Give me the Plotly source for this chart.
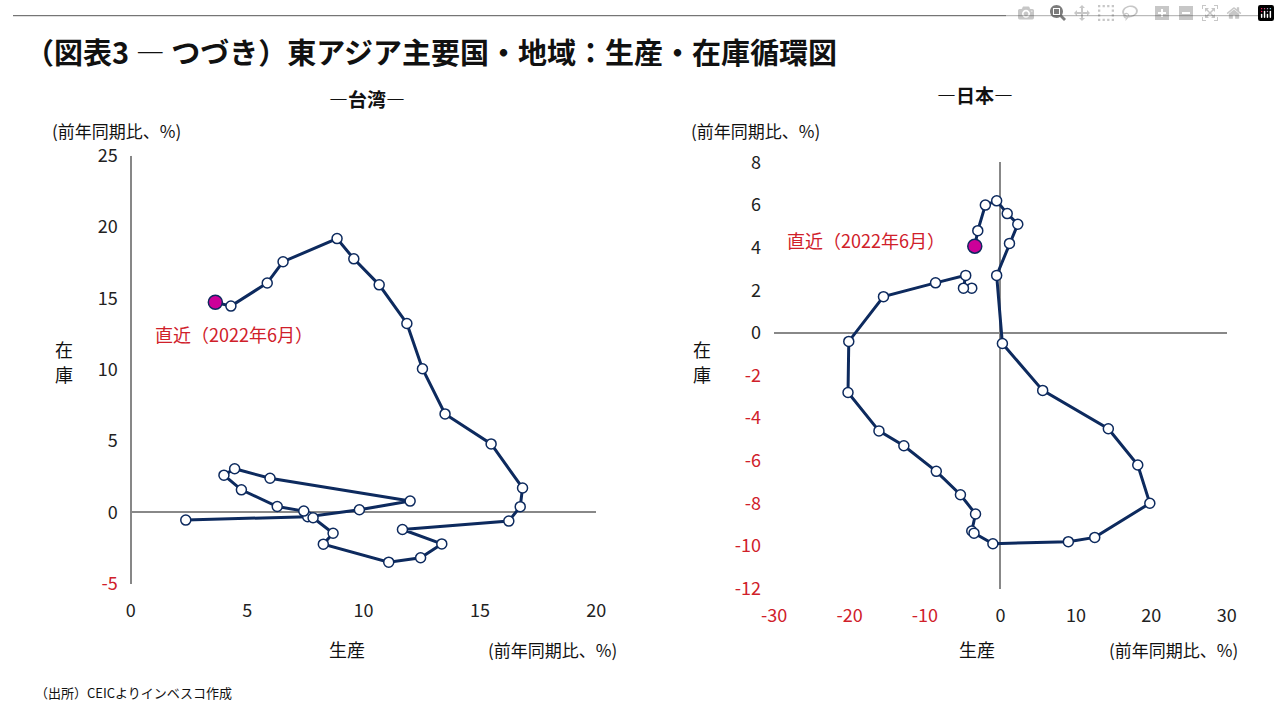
import plotly.graph_objects as go
from plotly.subplots import make_subplots

# 台湾: 生産 (x), 在庫 (y), chronological, last point = 直近
tw_prod = [2.36, 7.6, 9.82, 12.0, 5.98, 4.46, 4.0, 4.75, 6.29, 7.43, 7.83, 8.69, 8.27,
           11.08, 12.45, 13.36, 11.67, 16.24, 16.73, 16.83, 15.48, 13.5, 12.53, 11.86,
           10.67, 9.58, 8.86, 6.54, 5.86, 4.3, 3.63]
tw_inv = [-0.54, -0.3, 0.18, 0.79, 2.39, 3.06, 2.61, 1.58, 0.41, 0.09, -0.38, -1.46, -2.23,
          -3.49, -3.18, -2.21, -1.2, -0.61, 0.4, 1.71, 4.8, 6.9, 10.07, 13.24,
          15.95, 17.77, 19.19, 17.57, 16.08, 14.46, 14.73]

# 日本
jp_prod = [-3.8, -4.9, -4.6, -8.6, -15.5, -20.1, -20.2, -16.1, -12.8, -8.5, -5.3, -3.3,
           -3.8, -3.5, -1.0, 9.0, 12.5, 19.8, 18.2, 14.3, 5.6, 0.26, -0.5, 1.2, 2.3, 0.9,
           -0.5, -2.0, -3.0, -3.4]
jp_inv = [2.1, 2.1, 2.7, 2.35, 1.7, -0.4, -2.8, -4.6, -5.3, -6.5, -7.6, -8.5,
          -9.3, -9.4, -9.9, -9.8, -9.6, -8.0, -6.2, -4.5, -2.7, -0.5, 2.7, 4.2, 5.1, 5.6,
          6.2, 6.0, 4.8, 4.07]

tw_xticks = [0, 5, 10, 15, 20]
tw_yticks = [-5, 0, 5, 10, 15, 20, 25]
jp_xticks = [-30, -20, -10, 0, 10, 20, 30]
jp_yticks = [-12, -10, -8, -6, -4, -2, 0, 2, 4, 6, 8]

NAVY = "#0d2a5e"
RED = "#d0202a"
FONT = "Noto Sans CJK JP"


def tick_text(vals):
    return [f'<span style="color:{RED}">{v}</span>' if v < 0 else str(v) for v in vals]


fig = make_subplots(rows=1, cols=2)

for col, xs, ys in [(1, tw_prod, tw_inv), (2, jp_prod, jp_inv)]:
    fig.add_trace(go.Scatter(x=xs, y=ys, mode="lines+markers",
                             line=dict(color=NAVY, width=3),
                             marker=dict(size=10, color="white", line=dict(color=NAVY, width=1.5)),
                             showlegend=False), row=1, col=col)
    fig.add_trace(go.Scatter(x=[xs[-1]], y=[ys[-1]], mode="markers",
                             marker=dict(size=14, color="#cc0099", line=dict(color=NAVY, width=1.5)),
                             showlegend=False), row=1, col=col)

axis_common = dict(showgrid=False, showline=False, zeroline=True, zerolinecolor="#888888",
                   zerolinewidth=1.5, ticks="", tickfont=dict(size=18, color="#222", family=FONT))

fig.update_xaxes(domain=[120 / 1280, 594 / 1280], range=[0, 20], tickvals=tw_xticks,
                 ticktext=tick_text(tw_xticks), row=1, col=1, **axis_common)
fig.update_yaxes(domain=[1 - 590 / 720, 1 - 146 / 720], range=[-5, 25], tickvals=tw_yticks,
                 ticktext=tick_text(tw_yticks), row=1, col=1, **axis_common)
fig.update_xaxes(domain=[775 / 1280, 1236 / 1280], range=[-30, 30], tickvals=jp_xticks,
                 ticktext=tick_text(jp_xticks), row=1, col=2, **axis_common)
fig.update_yaxes(domain=[1 - 595 / 720, 1 - 153 / 720], range=[-12, 8], tickvals=jp_yticks,
                 ticktext=tick_text(jp_yticks), row=1, col=2, **axis_common)
fig.update_xaxes(ticklabelstandoff=14)
fig.update_yaxes(ticklabelstandoff=12)

# vertical axis line for 台湾 at x=0 (left edge)
fig.add_shape(type="line", xref="x", yref="y", x0=0, x1=0, y0=-5, y1=25,
              line=dict(color="#888888", width=1.5))
fig.add_shape(type="line", xref="paper", yref="paper", x0=0, x1=1, y0=0.999, y1=0.999,
              line=dict(color="#555", width=1))


def txt(x, y, s, size=18, color="#111", anchor="left", bold=False):
    if bold:
        s = f"<b>{s}</b>"
    fig.add_annotation(x=x / 1280, y=1 - y / 720, xref="paper", yref="paper", text=s,
                       showarrow=False, xanchor=anchor, yanchor="middle",
                       font=dict(size=size, color=color, family=FONT))


txt(10, 37, "（図表3 ― つづき）東アジア主要国・地域：生産・在庫循環図", size=29, bold=True)
txt(360, 87, "―台湾―", size=19, anchor="center", bold=True)
txt(980, 82, "―日本―", size=19, anchor="center", bold=True)
txt(38, 120, "(前年同期比、%)", size=17)
txt(688, 120, "(前年同期比、%)", size=17)
for xx in (52, 702):
    txt(xx, 346, "在", size=18, anchor="center")
    txt(xx, 372, "庫", size=18, anchor="center")
txt(340, 658, "生産", size=18, anchor="center")
txt(982, 658, "生産", size=18, anchor="center")
txt(482, 658, "(前年同期比、%)", size=17)
txt(1114, 658, "(前年同期比、%)", size=17)
txt(143, 331, "直近（2022年6月）", size=18, color=RED)
txt(786, 233, "直近（2022年6月）", size=18, color=RED)
txt(20, 703, "（出所）CEICよりインベスコ作成", size=13)

fig.update_layout(width=1280, height=720, margin=dict(l=0, r=0, t=0, b=0),
                  plot_bgcolor="white", paper_bgcolor="white", font=dict(family=FONT))
fig.write_html("out.html",
               post_script="document.body.style.margin='0';document.body.style.overflow='hidden';")
